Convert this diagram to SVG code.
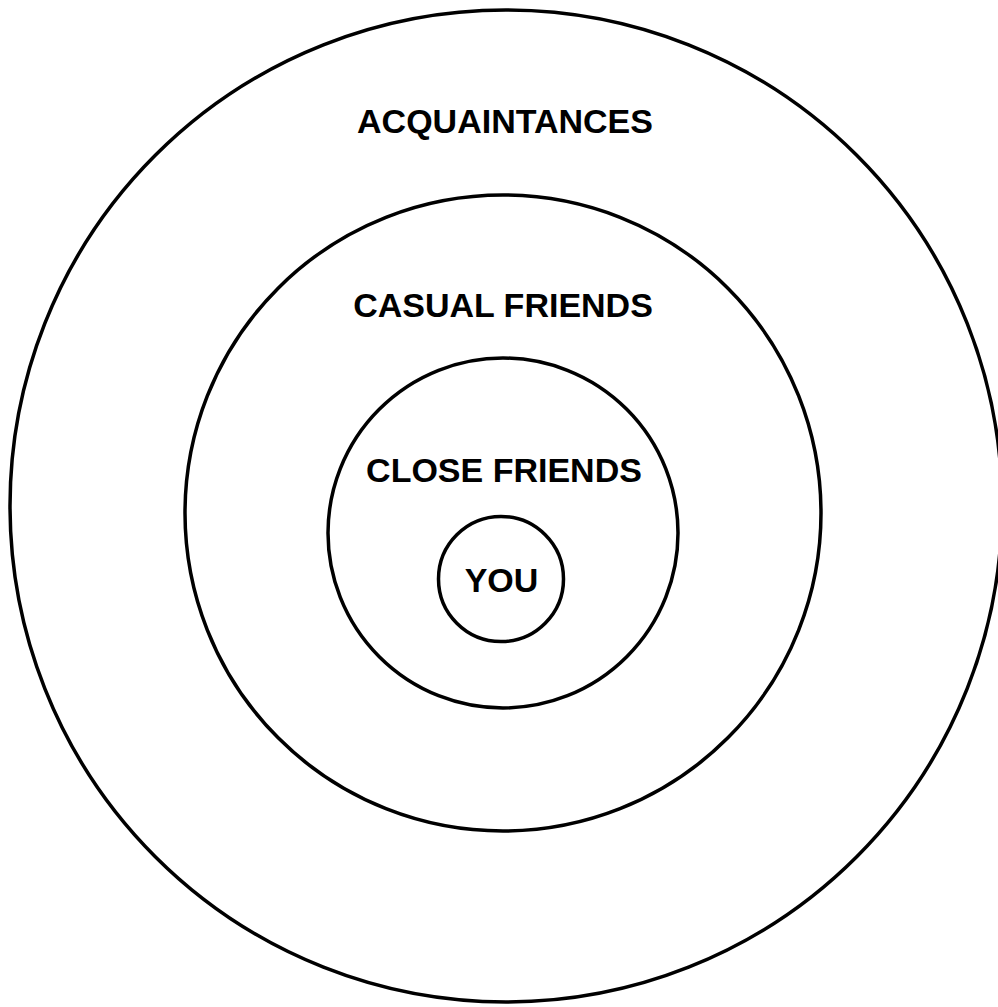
<svg xmlns="http://www.w3.org/2000/svg" width="998" height="1007" viewBox="0 0 998 1007">
<style>
.ring{fill:none;stroke:#000;stroke-width:3.5}
.lbl{font-family:"Liberation Sans",Arial,sans-serif;font-weight:bold;font-size:34px;fill:#000;text-anchor:middle}
</style>
<rect width="998" height="1007" fill="#fff"/>
<g id="acquaintances"><circle class="ring" cx="506" cy="506" r="496"/><text class="lbl" x="505" y="133">ACQUAINTANCES</text></g>
<g id="casual-friends"><circle class="ring" cx="503" cy="513" r="318"/><text class="lbl" x="503" y="317">CASUAL FRIENDS</text></g>
<g id="close-friends"><circle class="ring" cx="503" cy="533" r="175"/><text class="lbl" x="504" y="482">CLOSE FRIENDS</text></g>
<g id="you"><circle class="ring" cx="501" cy="579" r="62.5"/><text class="lbl" x="501.5" y="592">YOU</text></g>
<g id="connectors"/>
</svg>
